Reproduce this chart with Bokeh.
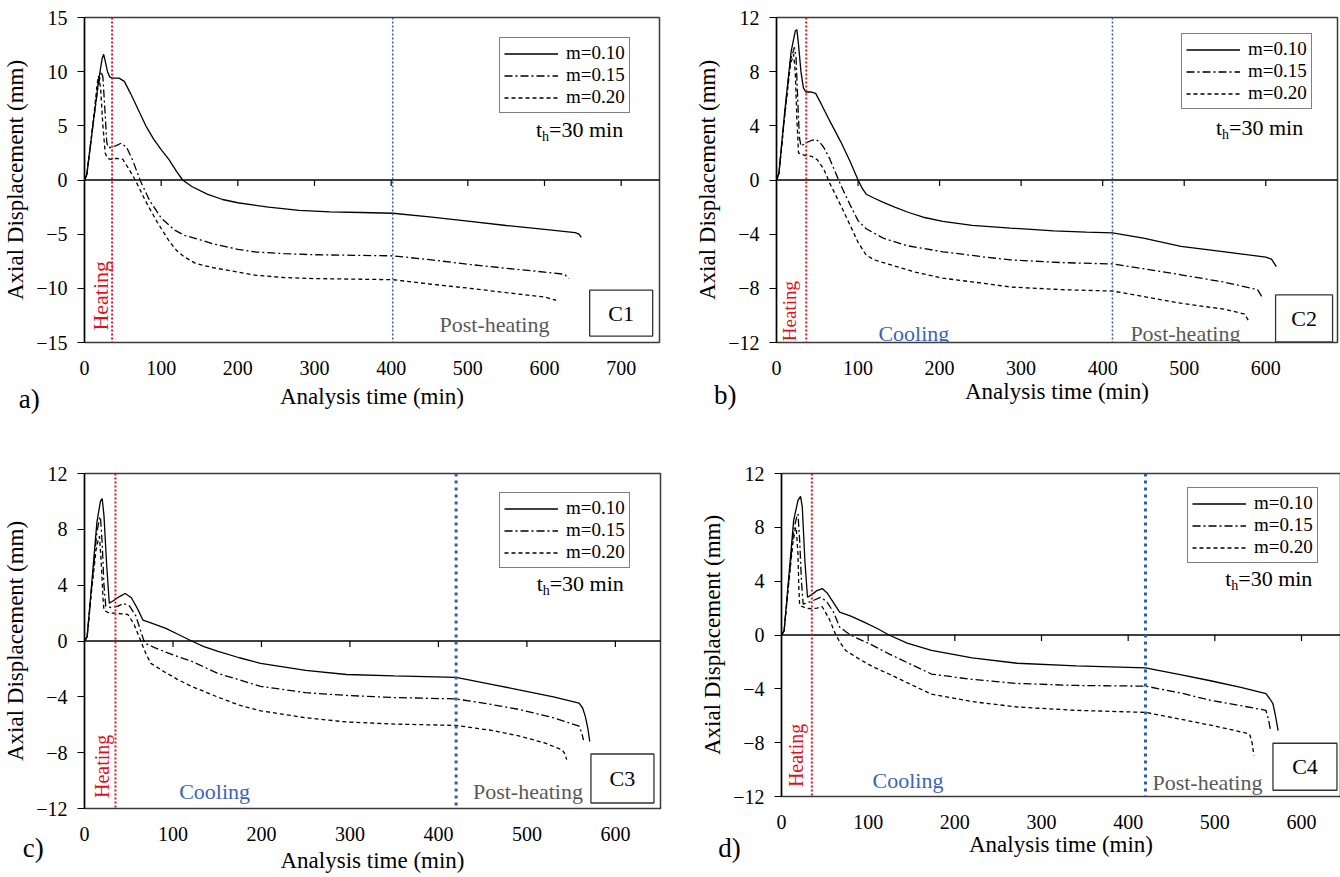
from bokeh.plotting import figure
from bokeh.layouts import column, row
from bokeh.models import (Range1d, FixedTicker, Label, Legend, LegendItem, Span)
from bokeh.embed import file_html
from bokeh.resources import INLINE

FONT = "Liberation Serif"
series_labels = ["m=0.10", "m=0.15", "m=0.20"]

# ---------------- Panel a (C1) ----------------
a_t10 = [0, 3, 10, 18, 23, 25, 27, 30, 33, 37, 45, 52, 60, 70, 80, 90, 100, 110, 120, 128, 140, 160, 180, 200, 240, 280, 320, 360, 402, 450, 500, 550, 600, 640, 645, 648]
a_y10 = [0, 0.5, 4.5, 9.0, 11.2, 11.6, 11.0, 10.0, 9.5, 9.4, 9.4, 9.1, 8.0, 6.5, 5.0, 3.8, 2.8, 1.9, 0.8, 0.0, -0.6, -1.3, -1.8, -2.1, -2.5, -2.8, -2.95, -3.0, -3.07, -3.4, -3.8, -4.2, -4.55, -4.85, -5.0, -5.3]
a_t15 = [0, 3, 10, 18, 22, 24, 27, 29, 31, 35, 42, 48, 55, 63, 73, 85, 100, 117, 130, 150, 168, 200, 224, 260, 300, 350, 402, 450, 503, 550, 600, 626, 632]
a_y15 = [0, 0.5, 4.5, 8.8, 10.0, 9.5, 6.0, 3.5, 3.0, 3.0, 3.2, 3.4, 3.0, 1.8, -0.1, -1.9, -3.5, -4.6, -5.1, -5.5, -5.9, -6.4, -6.65, -6.8, -6.9, -6.95, -7.0, -7.35, -7.8, -8.15, -8.5, -8.7, -9.1]
a_t20 = [0, 3, 10, 16, 18, 21, 24, 27, 30, 35, 42, 50, 58, 67, 80, 95, 110, 120, 130, 145, 168, 200, 224, 260, 300, 350, 402, 450, 503, 550, 600, 615]
a_y20 = [0, 0.5, 4.5, 8.5, 9.6, 8.5, 5.0, 2.5, 2.0, 1.9, 2.0, 1.9, 1.0, -0.1, -2.0, -3.9, -5.6, -6.5, -7.1, -7.7, -8.1, -8.5, -8.8, -9.0, -9.1, -9.15, -9.2, -9.6, -10.0, -10.4, -10.8, -11.1]

# ---------------- Panel b (C2) ----------------
b_t10 = [0, 3, 10, 18, 23, 25, 27, 30, 33, 36, 42, 48, 55, 65, 79, 90, 100, 105, 110, 120, 131, 145, 162, 180, 204, 240, 287, 340, 380, 412, 450, 496, 550, 600, 607, 613]
b_y10 = [0, 0.5, 5.0, 9.5, 11.0, 11.1, 10.0, 8.0, 6.8, 6.5, 6.5, 6.4, 5.6, 4.4, 2.8, 1.4, 0.0, -0.6, -1.05, -1.35, -1.65, -2.0, -2.4, -2.75, -3.05, -3.35, -3.55, -3.75, -3.85, -3.9, -4.3, -4.9, -5.3, -5.7, -5.85, -6.4]
b_t15 = [0, 3, 10, 17, 22, 24, 26, 28, 30, 35, 42, 48, 53, 58, 65, 79, 90, 100, 110, 131, 160, 204, 250, 287, 350, 412, 450, 496, 550, 590, 595]
b_y15 = [0, 0.5, 4.8, 8.8, 9.8, 9.0, 6.0, 3.2, 2.5, 2.7, 2.9, 3.0, 2.8, 2.4, 1.6, -0.4, -1.8, -3.0, -3.6, -4.3, -4.85, -5.3, -5.65, -5.9, -6.1, -6.2, -6.55, -7.0, -7.55, -8.1, -8.6]
b_t20 = [0, 3, 10, 17, 21, 23, 25, 27, 30, 36, 43, 50, 58, 65, 79, 90, 100, 110, 120, 142, 170, 204, 250, 287, 350, 412, 450, 496, 550, 574, 579]
b_y20 = [0, 0.5, 4.7, 8.5, 9.3, 8.0, 4.5, 2.0, 1.9, 1.8, 1.75, 1.5, 0.8, -0.2, -1.9, -3.3, -4.6, -5.55, -5.9, -6.3, -6.8, -7.25, -7.6, -7.9, -8.1, -8.2, -8.6, -9.1, -9.55, -9.9, -10.4]

# ---------------- Panel c (C3) ----------------
c_t10 = [0, 3, 8, 14, 18, 20, 22, 25, 28, 33, 40, 46, 53, 60, 66, 75, 92, 105, 121, 135, 151, 175, 199, 250, 296, 350, 420, 460, 491, 530, 559, 563, 566, 569, 571]
c_y10 = [0, 0.3, 4.0, 8.5, 10.0, 10.2, 9.0, 5.5, 2.7, 2.9, 3.2, 3.4, 3.1, 2.3, 1.5, 1.3, 0.9, 0.5, 0.0, -0.4, -0.75, -1.2, -1.6, -2.1, -2.4, -2.5, -2.6, -3.1, -3.5, -4.0, -4.45, -4.8, -5.4, -6.3, -7.2]
c_t15 = [0, 3, 8, 14, 17, 18, 20, 22, 24, 30, 38, 44, 51, 58, 68, 80, 100, 121, 150, 199, 250, 296, 350, 420, 460, 491, 530, 559, 562, 564]
c_y15 = [0, 0.3, 3.8, 7.8, 8.8, 8.9, 7.0, 4.0, 2.5, 2.4, 2.5, 2.7, 2.5, 1.8, -0.15, -0.5, -1.0, -1.45, -2.3, -3.25, -3.7, -3.9, -4.05, -4.15, -4.55, -4.9, -5.5, -6.1, -6.6, -7.1]
c_t20 = [0, 3, 8, 13, 16, 17, 19, 21, 22, 28, 34, 42, 49, 56, 63, 70, 75, 90, 105, 121, 150, 175, 199, 250, 296, 350, 420, 460, 491, 520, 540, 543, 545]
c_y20 = [0, 0.3, 3.6, 6.5, 7.4, 7.5, 5.5, 3.0, 2.2, 2.0, 2.0, 1.95, 1.9, 1.2, 0.1, -1.0, -1.6, -2.2, -2.75, -3.25, -4.0, -4.6, -5.0, -5.5, -5.8, -5.95, -6.05, -6.4, -6.8, -7.3, -7.8, -8.1, -8.5]

# ---------------- Panel d (C4) ----------------
d_t10 = [0, 3, 8, 14, 19, 22, 24, 27, 30, 35, 41, 47, 53, 60, 67, 80, 94, 110, 124, 145, 173, 220, 272, 340, 420, 460, 495, 530, 559, 563, 567, 570, 573]
d_y10 = [0, 0.3, 4.0, 8.5, 10.0, 10.3, 9.5, 5.5, 2.8, 3.0, 3.3, 3.45, 3.1, 2.4, 1.7, 1.4, 1.0, 0.5, 0.0, -0.6, -1.15, -1.7, -2.1, -2.3, -2.45, -2.95, -3.4, -3.9, -4.35, -4.7, -5.1, -6.0, -7.1]
d_t15 = [0, 3, 8, 14, 18, 19, 21, 23, 25, 30, 38, 45, 52, 60, 67, 75, 84, 100, 124, 150, 173, 220, 272, 340, 420, 460, 495, 530, 559, 562, 564]
d_y15 = [0, 0.3, 3.8, 7.8, 8.9, 9.0, 7.0, 4.0, 2.3, 2.4, 2.6, 2.8, 2.5, 1.7, 0.6, 0.2, -0.15, -0.6, -1.4, -2.2, -2.9, -3.3, -3.6, -3.75, -3.8, -4.3, -4.85, -5.25, -5.6, -6.3, -7.0]
d_t20 = [0, 3, 8, 13, 16, 17, 19, 20, 21, 28, 35, 41, 47, 55, 62, 68, 74, 90, 105, 124, 150, 173, 220, 272, 340, 420, 460, 495, 520, 540, 543, 545]
d_y20 = [0, 0.3, 3.6, 6.8, 7.9, 8.0, 6.0, 3.5, 2.2, 2.0, 1.95, 2.0, 2.1, 1.2, 0.1, -0.6, -1.15, -1.8, -2.35, -2.9, -3.7, -4.4, -4.95, -5.35, -5.6, -5.75, -6.25, -6.7, -7.05, -7.35, -8.0, -8.95]

# phase boundaries (min)
heating_end = {"a": 36, "b": 36.5, "c": 35, "d": 35}
cooling_end = {"a": 402, "b": 412, "c": 420, "d": 420}

x_ticks_a = [0, 100, 200, 300, 400, 500, 600, 700]
x_ticks_bcd = [0, 100, 200, 300, 400, 500, 600]
y_ticks_a = [-15, -10, -5, 0, 5, 10, 15]
y_ticks_bcd = [-12, -8, -4, 0, 4, 8, 12]

DASHES = ["solid", "8 3 2 3", "4 3"]
XLABEL = "Analysis time (min)"


def make_panel(key, series, xmax, ylim, xticks, yticks, borders, frame, blue_w,
               legend_loc, th_pos, heat_pos, heat_size, cool_pos, post_pos, box_pos, box_size,
               box_text, letter_pos, label_standoff):
    bl, br, bt, bb = borders
    fw, fh = frame
    p = figure(frame_width=fw, frame_height=fh, output_backend="svg", toolbar_location=None,
               x_range=Range1d(0, xmax), y_range=Range1d(-ylim, ylim),
               min_border_left=bl, min_border_right=br, min_border_top=bt, min_border_bottom=bb)
    p.grid.visible = False
    p.outline_line_color = "#3a3a3a"
    p.outline_line_width = 1.5
    p.background_fill_color = "white"
    p.border_fill_color = "white"

    xa = p.xaxis[0]
    xa.ticker = FixedTicker(ticks=xticks)
    xa.axis_line_color = None
    xa.major_tick_line_color = None
    xa.major_tick_out = 0
    xa.minor_tick_line_color = None
    xa.major_label_standoff = 18
    xa.major_label_text_font = FONT
    xa.major_label_text_font_size = "20px"
    xa.major_label_text_color = "black"
    xa.axis_label = XLABEL
    xa.axis_label_text_font = FONT
    xa.axis_label_text_font_size = "23px"
    xa.axis_label_text_font_style = "normal"
    xa.axis_label_text_color = "black"
    xa.axis_label_standoff = label_standoff

    ya = p.yaxis[0]
    ya.ticker = FixedTicker(ticks=yticks)
    ya.axis_line_color = "black"
    ya.axis_line_width = 1.4
    ya.major_tick_line_color = "black"
    ya.major_tick_line_width = 1.2
    ya.major_tick_out = 7
    ya.major_tick_in = 0
    ya.minor_tick_line_color = None
    ya.major_label_standoff = 10
    ya.major_label_text_font = FONT
    ya.major_label_text_font_size = "20px"
    ya.major_label_text_color = "black"
    ya.axis_label = "Axial Displacement (mm)"
    ya.axis_label_text_font = FONT
    ya.axis_label_text_font_size = "23px"
    ya.axis_label_text_font_style = "normal"
    ya.axis_label_text_color = "black"
    ya.axis_label_standoff = 5

    p.add_layout(Span(location=0, dimension="width", line_color="black", line_width=1.4))
    tick_len = 6 * (2 * ylim) / fh
    p.segment(x0=xticks[1:], y0=[0] * (len(xticks) - 1), x1=xticks[1:],
              y1=[-tick_len] * (len(xticks) - 1), line_color="black", line_width=1.2)

    p.add_layout(Span(location=heating_end[key], dimension="height", line_color="#E0101A",
                      line_width=2, line_dash="2 2"))
    p.add_layout(Span(location=cooling_end[key], dimension="height", line_color="#2F5DAA",
                      line_width=blue_w, line_dash="2 2" if blue_w < 2 else "3 4"))

    items = []
    for (t, y), dash, lab in zip(series, DASHES, series_labels):
        r = p.line(t, y, line_color="black", line_width=1.3, line_dash=dash)
        items.append(LegendItem(label=lab, renderers=[r]))

    leg = Legend(items=items, location=legend_loc, border_line_color="black", border_line_width=1.3,
                 background_fill_color="white", background_fill_alpha=1.0,
                 label_text_font=FONT, label_text_font_size="19px", label_text_color="black",
                 glyph_width=54, glyph_height=21, label_height=21, label_standoff=8,
                 padding=4, spacing=0, margin=0)
    p.add_layout(leg, "center")

    tx, ty = th_pos
    p.add_layout(Label(x=tx, y=ty, text="t", text_font=FONT, text_font_size="22px",
                       text_baseline="middle", text_color="black"))
    p.add_layout(Label(x=tx, y=ty, x_offset=6, y_offset=-7, text="h", text_font=FONT,
                       text_font_size="14px", text_baseline="middle", text_color="black"))
    p.add_layout(Label(x=tx, y=ty, x_offset=13, text="=30 min", text_font=FONT,
                       text_font_size="22px", text_baseline="middle", text_color="black"))

    hx, hy = heat_pos
    p.add_layout(Label(x=hx, y=hy, text="Heating", angle=1.5708, text_align="left",
                       text_baseline="middle", text_font=FONT, text_font_size=heat_size,
                       text_color="#E0101A"))
    if cool_pos is not None:
        p.add_layout(Label(x=cool_pos[0], y=cool_pos[1], text="Cooling", text_align="left",
                           text_baseline="middle", text_font=FONT, text_font_size="22px",
                           text_color="#3C64B4"))
    p.add_layout(Label(x=post_pos[0], y=post_pos[1], text="Post-heating", text_align="left",
                       text_baseline="middle", text_font=FONT, text_font_size="22px",
                       text_color="#595959"))
    p.rect(x=[box_pos[0]], y=[box_pos[1]], width=box_size[0], height=box_size[1],
           width_units="screen", height_units="screen", fill_color="white",
           line_color="#333333", line_width=1.3)
    p.add_layout(Label(x=box_pos[0], y=box_pos[1], text=box_text, text_align="center",
                       text_baseline="middle", text_font=FONT, text_font_size="22px",
                       text_color="black"))
    # panel letter: placed in the bottom side panel so it is not clipped to the frame
    p.add_layout(Label(x=letter_pos[0], y=letter_pos[1], text=key + ")", text_align="center",
                       text_baseline="middle", text_font=FONT, text_font_size="27px",
                       text_color="black"), "below")
    return p


pa = make_panel("a", [(a_t10, a_y10), (a_t15, a_y15), (a_t20, a_y20)], 750, 15,
                x_ticks_a, y_ticks_a, (84, 11, 17, 98), (575, 325), 1.5,
                (415, 229), (589, 4.7), (21, -13.9), "22px", None, (463, -13.3), (700, -12.28),
                (63, 46), "C1", (-72, -20.25), 6)
pb = make_panel("b", [(b_t10, b_y10), (b_t15, b_y15), (b_t20, b_y20)], 688, 12,
                x_ticks_bcd, y_ticks_bcd, (106, 3, 17, 98), (561, 325), 1.5,
                (405, 233), (539, 3.85), (16, -11.9), "19px", (125, -11.3), (434, -11.3), (647, -10.22),
                (57, 47), "C2", (-63, -15.9), 1)
pc = make_panel("c", [(c_t10, c_y10), (c_t15, c_y15), (c_t20, c_y20)], 651, 12,
                x_ticks_bcd, y_ticks_bcd, (81, 13, 32, 68), (576, 335), 3,
                (415, 240), (511, 4.15), (20, -11.25), "20px", (107, -10.8), (439, -10.8), (608, -9.85),
                (63, 49), "C3", (-58, -14.85), 4)
pd = make_panel("d", [(d_t10, d_y10), (d_t15, d_y15), (d_t20, d_y20)], 645, 12,
                x_ticks_bcd, y_ticks_bcd, (108, 3, 31, 81), (559, 323), 3,
                (406, 233), (512, 4.2), (17, -11.3), "20px", (105, -10.8), (428, -10.95), (604, -9.79),
                (64, 47), "C4", (-60, -15.83), 0)

layout = column(row(pa, pb), row(pc, pd))
open("out.html", "w").write(file_html(layout, INLINE))
